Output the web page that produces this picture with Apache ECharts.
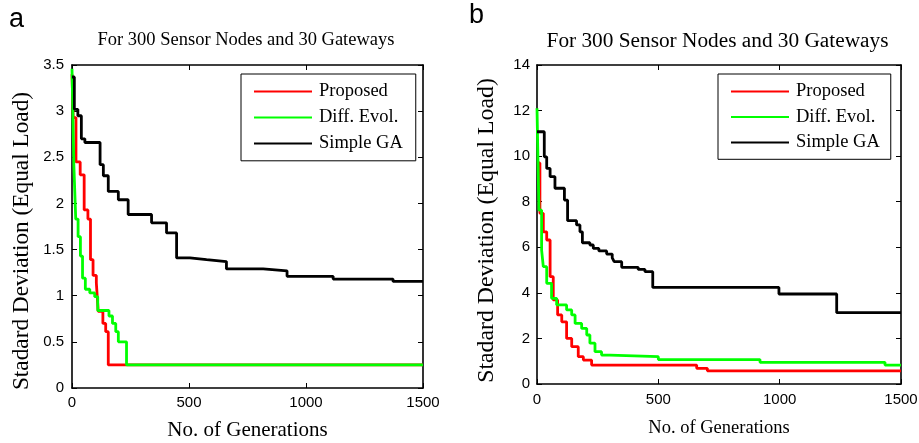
<!DOCTYPE html>
<html><head><meta charset="utf-8">
<script src="https://cdn.jsdelivr.net/npm/echarts@6/dist/echarts.min.js"></script>
<style>html,body{margin:0;padding:0;background:#fff}#c{width:919px;height:443px}</style>
</head><body><div id="c"></div>
<script>
// ---- Panel a data ----
const genA_proposed = [0, 5, 17, 35, 52, 68, 79, 90, 104, 112, 132, 144, 155, 1500];
const valA_proposed = [3.40, 2.93, 2.45, 2.31, 1.93, 1.83, 1.39, 1.22, 1.14, 0.83, 0.70, 0.61, 0.25, 0.25];
const genA_diff = [0, 8, 16, 26, 36, 45, 57, 76, 97, 110, 158, 173, 187, 198, 233, 1500];
const valA_diff = [3.46, 2.41, 1.83, 1.64, 1.43, 1.19, 1.07, 1.03, 0.99, 0.84, 0.78, 0.70, 0.61, 0.50, 0.25, 0.25];
const genA_ga = [0, 10, 25, 40, 55, 120, 134, 155, 198, 240, 340, 404, 447, 504, 575, 660, 817, 919, 1116, 1372, 1500];
const valA_ga = [3.37, 3.02, 2.95, 2.70, 2.66, 2.42, 2.30, 2.13, 2.04, 1.88, 1.79, 1.68, 1.41, 1.39, 1.37, 1.29, 1.27, 1.21, 1.18, 1.155, 1.155];
// ---- Panel b data ----
const genB_proposed = [0, 12, 26, 40, 54, 67, 85, 102, 122, 143, 170, 191, 225, 658, 702, 1500];
const valB_proposed = [9.7, 7.49, 6.68, 6.32, 4.71, 3.69, 3.03, 2.73, 2.0, 1.64, 1.2, 1.05, 0.83, 0.69, 0.58, 0.58];
const genB_diff = [0, 4, 8, 19, 26, 40, 60, 81, 122, 143, 157, 184, 205, 218, 239, 266, 301, 500, 919, 1434, 1500];
const valB_diff = [12.1, 9.8, 7.63, 5.88, 5.15, 4.42, 3.76, 3.47, 3.25, 3.03, 2.66, 2.44, 2.15, 1.79, 1.42, 1.27, 1.2, 1.07, 0.95, 0.83, 0.83];
const genB_ga = [0, 30, 40, 54, 74, 113, 126, 163, 177, 187, 218, 232, 255, 287, 310, 318, 349, 417, 445, 477, 997, 1235, 1500];
const valB_ga = [11.07, 9.97, 9.46, 9.10, 8.59, 8.07, 7.17, 6.98, 6.68, 6.2, 6.1, 5.95, 5.84, 5.70, 5.54, 5.37, 5.12, 5.03, 4.93, 4.24, 3.95, 3.13, 3.13];

const seriesNames = ['Proposed', 'Diff. Evol.', 'Simple GA'];
const seriesColors = ['#ff0000', '#00ff00', '#000000'];
const titleText = 'For 300 Sensor Nodes and 30 Gateways';
const xName = 'No. of Generations';
const yName = 'Stadard Deviation (Equal Load)';
const xTicksMax = 1500, xTickStep = 500;
const yA = {max: 3.5, step: 0.5};
const yB = {max: 14, step: 2};

const zip = (g, v) => g.map((x, i) => [x, v[i]]);
const SERIF = 'Liberation Serif';
const SANS = 'Liberation Sans';

function axisBase(extra) {
  return Object.assign({
    type: 'value',
    axisLine: {show: true, onZero: false, lineStyle: {color: '#000', width: 1.6}},
    axisTick: {show: true, inside: true, length: 5, lineStyle: {color: '#000', width: 1}},
    splitLine: {show: false}
  }, extra);
}
const fmt = v => String(v);

const panelCfg = [
  {xGap: 31.5, xFont: 21, xMargin: 7, yMargin: 8},
  {xGap: 35, xFont: 18.5, xMargin: 8, yMargin: 7}
];
const xAxes = [], yAxes = [];
panelCfg.forEach((cfg, gi) => {
  xAxes.push(axisBase({gridIndex: gi, position: 'bottom', min: 0, max: xTicksMax, interval: xTickStep,
    name: xName, nameLocation: 'middle', nameGap: cfg.xGap,
    nameTextStyle: {fontFamily: SERIF, fontSize: cfg.xFont, color: '#000'},
    axisLabel: {color: '#000', fontFamily: SANS, fontSize: 15, margin: cfg.xMargin, formatter: fmt}}));
  xAxes.push(axisBase({gridIndex: gi, position: 'top', min: 0, max: xTicksMax, interval: xTickStep,
    axisLabel: {show: false}}));
  const y = gi === 0 ? yA : yB;
  yAxes.push(axisBase({gridIndex: gi, position: 'left', min: 0, max: y.max, interval: y.step,
    axisLabel: {color: '#000', fontFamily: SANS, fontSize: 15, margin: cfg.yMargin, formatter: fmt}}));
  yAxes.push(axisBase({gridIndex: gi, position: 'right', min: 0, max: y.max, interval: y.step,
    axisLabel: {show: false}}));
});

const panelData = [
  [zip(genA_proposed, valA_proposed), zip(genA_diff, valA_diff), zip(genA_ga, valA_ga)],
  [zip(genB_proposed, valB_proposed), zip(genB_diff, valB_diff), zip(genB_ga, valB_ga)]
];
const series = [];
panelData.forEach((arr, gi) => {
  arr.forEach((d, si) => {
    series.push({
      type: 'line', name: seriesNames[si], step: 'end',
      xAxisIndex: gi * 2, yAxisIndex: gi * 2,
      data: d, symbol: 'none', showSymbol: false,
      lineStyle: {color: seriesColors[si], width: 2.8},
      itemStyle: {color: seriesColors[si]},
      z: 3 + si, animation: false
    });
  });
});

function legendAt(left, top, pad, gap) {
  return {
    left: left, top: top, orient: 'vertical', data: seriesNames,
    itemWidth: 58, itemHeight: 14, itemGap: gap,
    borderColor: '#000', borderWidth: 1, backgroundColor: '#fff',
    padding: pad, selectedMode: false,
    itemStyle: {color: 'rgba(0,0,0,0)', borderColor: 'rgba(0,0,0,0)', borderWidth: 0},
    textStyle: {fontFamily: SERIF, fontSize: 18.5, color: '#000', padding: [0, 0, 0, 2]}
  };
}

const chart = echarts.init(document.getElementById('c'), null, {renderer: 'canvas'});
chart.setOption({
  animation: false,
  backgroundColor: '#fff',
  grid: [
    {left: 72, top: 65, width: 351, height: 323, outerBoundsMode: 'none', containLabel: false},
    {left: 537, top: 65, width: 364, height: 319, outerBoundsMode: 'none', containLabel: false}
  ],
  title: [
    {text: titleText, left: 246, top: 30.5, textAlign: 'center', padding: 0,
      textStyle: {fontFamily: SERIF, fontSize: 18.5, fontWeight: 'normal', color: '#000'}},
    {text: titleText, left: 717.5, top: 30.5, textAlign: 'center', padding: 0,
      textStyle: {fontFamily: SERIF, fontSize: 21.3, fontWeight: 'normal', color: '#000'}}
  ],
  legend: [legendAt(241, 74, [8, 13, 7.8, 12], 7), legendAt(718, 74, [8, 11, 7.3, 12], 6.5)],
  xAxis: xAxes,
  yAxis: yAxes,
  series: series,
  graphic: [
    {type: 'text', left: 9, top: 6, style: {text: 'a', font: '27px Liberation Sans', fill: '#000'}},
    {type: 'text', left: 469, top: 2, style: {text: 'b', font: '27px Liberation Sans', fill: '#000'}},
    {type: 'text', x: 21.7, y: 241, rotation: Math.PI / 2,
      style: {text: yName, font: '23.3px Liberation Serif', fill: '#000', align: 'center', verticalAlign: 'middle'}},
    {type: 'text', x: 486.7, y: 230.5, rotation: Math.PI / 2,
      style: {text: yName, font: '23.8px Liberation Serif', fill: '#000', align: 'center', verticalAlign: 'middle'}}
  ]
});
</script></body></html>
